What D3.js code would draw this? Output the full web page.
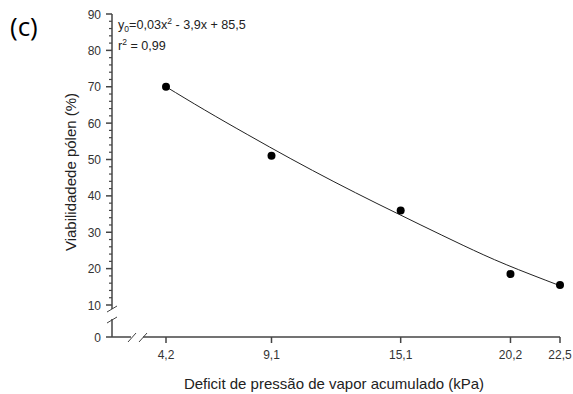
<!DOCTYPE html>
<html><head><meta charset="utf-8">
<script src="https://cdn.jsdelivr.net/npm/d3@7"></script>
<style>body{margin:0;background:#fff}svg{display:block}</style>
</head><body><svg id="c" width="573" height="394"></svg>
<script>
const xVals = [4.2, 9.1, 15.1, 20.2, 22.5];
const yVals = [70, 51, 36, 18.5, 15.5];
const xTickLabels = ["4,2", "9,1", "15,1", "20,2", "22,5"];
const yTicks = [0, 10, 20, 30, 40, 50, 60, 70, 80, 90];
const curveX = [4.2, 6, 8, 10, 12, 14, 16, 18, 20, 22.5];
const curveY = [70, 63.6, 56.8, 50.2, 43.9, 37.9, 32.1, 26.4, 21.1, 15.3];

const svg = d3.select("#c");
const axisColor = "#444";
const x = d3.scaleLinear().domain([4.2, 22.5]).range([166, 560]);
const y = d3.scaleLinear().domain([0, 10, 90]).range([337, 305, 14]);
const X0 = 112, Y0 = 337;
const font = "'Liberation Sans', Arial, sans-serif";

const ax = svg.append("g").attr("stroke", axisColor).attr("stroke-width", 1.5).attr("fill", "none");
ax.append("line").attr("x1", X0).attr("x2", X0).attr("y1", y(90)).attr("y2", 309);
ax.append("line").attr("x1", X0).attr("x2", X0).attr("y1", 319).attr("y2", Y0);
ax.append("line").attr("x1", X0 - 5).attr("x2", X0 + 5).attr("y1", 312).attr("y2", 306).attr("stroke-width", 1);
ax.append("line").attr("x1", X0 - 5).attr("x2", X0 + 5).attr("y1", 323).attr("y2", 317).attr("stroke-width", 1);
ax.append("line").attr("x1", X0).attr("x2", 131).attr("y1", Y0).attr("y2", Y0);
ax.append("line").attr("x1", 143).attr("x2", x(22.5)).attr("y1", Y0).attr("y2", Y0);
ax.append("line").attr("x1", 128).attr("x2", 136).attr("y1", Y0 + 5).attr("y2", Y0 - 4).attr("stroke-width", 1);
ax.append("line").attr("x1", 139).attr("x2", 147).attr("y1", Y0 + 5).attr("y2", Y0 - 4).attr("stroke-width", 1);

yTicks.forEach(t => {
  ax.append("line").attr("x1", X0 - 6).attr("x2", X0).attr("y1", y(t)).attr("y2", y(t));
});
d3.range(12, 90, 2).filter(v => v % 10 !== 0).forEach(t => {
  ax.append("line").attr("x1", X0 - 3).attr("x2", X0).attr("y1", y(t)).attr("y2", y(t)).attr("stroke-width", 1.2);
});
svg.append("g").selectAll("text").data(yTicks).join("text")
  .attr("x", 101).attr("y", d => y(d) + 4.5).attr("text-anchor", "end")
  .attr("font-family", font).attr("font-size", 12).attr("fill", "#333").text(d => d);

xVals.forEach((v, i) => {
  ax.append("line").attr("x1", x(v)).attr("x2", x(v)).attr("y1", Y0).attr("y2", Y0 + 6);
  svg.append("text").attr("x", x(v)).attr("y", 359).attr("text-anchor", "middle")
    .attr("font-family", font).attr("font-size", 12).attr("fill", "#333").text(xTickLabels[i]);
});

const line = d3.line().x((d, i) => x(curveX[i])).y(d => y(d)).curve(d3.curveNatural);
svg.append("path").datum(curveY).attr("d", line).attr("fill", "none").attr("stroke", "#222").attr("stroke-width", 1);

svg.append("g").selectAll("circle").data(yVals).join("circle")
  .attr("cx", (d, i) => x(xVals[i])).attr("cy", d => y(d)).attr("r", 4).attr("fill", "#000");

svg.append("text").attr("x", 10).attr("y", 36).attr("font-family", "'Open Sans', sans-serif").attr("font-size", 26).attr("fill", "#000").text("(c)");

const eq = svg.append("text").attr("x", 118).attr("y", 29).attr("font-family", font).attr("font-size", 12.6).attr("fill", "#222");
eq.append("tspan").text("y");
eq.append("tspan").attr("font-size", 8.5).attr("dy", 3).text("0");
eq.append("tspan").attr("dy", -3).text("=0,03x");
eq.append("tspan").attr("font-size", 8.5).attr("dy", -5).text("2");
eq.append("tspan").attr("dy", 5).text(" - 3,9x + 85,5");
const r2 = svg.append("text").attr("x", 118).attr("y", 50).attr("font-family", font).attr("font-size", 12.6).attr("fill", "#222");
r2.append("tspan").text("r");
r2.append("tspan").attr("font-size", 8.5).attr("dy", -5).text("2");
r2.append("tspan").attr("dy", 5).text(" = 0,99");

svg.append("text").attr("transform", "translate(76,172) rotate(-90)").attr("text-anchor", "middle")
  .attr("font-family", font).attr("font-size", 15).attr("fill", "#222").text("Viabilidadede pólen (%)");
svg.append("text").attr("x", 334).attr("y", 389).attr("text-anchor", "middle")
  .attr("font-family", font).attr("font-size", 15).attr("fill", "#222").text("Deficit de pressão de vapor acumulado (kPa)");
</script></body></html>
